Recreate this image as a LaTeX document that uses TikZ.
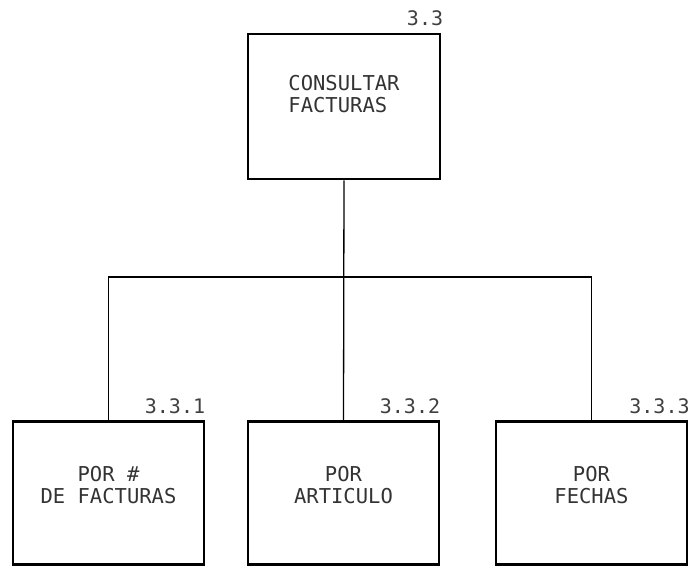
\documentclass[tikz,border=0pt]{standalone}
\usepackage{fontspec}
\newfontfamily\plotfont{DejaVu Sans Mono}
\usetikzlibrary{positioning}

\begin{document}
\begin{tikzpicture}[x=1pt, y=-1pt,
  modbox/.style={draw, line width=2.6pt, minimum width=191pt, minimum height=143pt, inner sep=0pt},
  boxtext/.style={font=\plotfont\fontsize{20.5}{22}\selectfont, text=black!80, inner sep=0pt},
  numlabel/.style={font=\plotfont\fontsize{20}{22}\selectfont, text=black!75, inner sep=0pt, anchor=base east},
  conn/.style={line width=1.3pt}]
  \useasboundingbox (0,0) rectangle (689,566);

  % Node positions
  \node[modbox, minimum width=192pt, minimum height=145pt] (top) at (344,106.5) {};
  \node[modbox] (b1) at (108.5,493) {};
  \node[modbox] (b2) at (343.5,493) {};
  \node[modbox] (b3) at (591.5,493) {};

  % Texts
  \node[boxtext, align=left] (t0) at ([yshift=12.5pt]top.center) {CONSULTAR\\FACTURAS};
  \node[boxtext, align=center] (t1) at ([yshift=7.5pt]b1.center) {POR \#\\DE FACTURAS};
  \node[boxtext, align=center] (t2) at ([yshift=7.5pt]b2.center) {POR\\ARTICULO};
  \node[boxtext, align=center] (t3) at ([yshift=7.5pt]b3.center) {POR\\FECHAS};

  % Numbers
  \node[numlabel] (n0) at ([xshift=2pt, yshift=7pt]top.north east) {3.3};
  \node[numlabel] (n1) at ([yshift=7pt]b1.north east) {3.3.1};
  \node[numlabel] (n2) at ([yshift=7pt]b2.north east) {3.3.2};
  \node[numlabel] (n3) at ([xshift=1.5pt, yshift=7pt]b3.north east) {3.3.3};

  % Connections
  \coordinate (bus) at (344,277);
  \draw[conn] (top.south) -- (b2.north);
  \draw[conn] (b1.north) |- (bus) -| (b3.north);

\end{tikzpicture}
\end{document}
